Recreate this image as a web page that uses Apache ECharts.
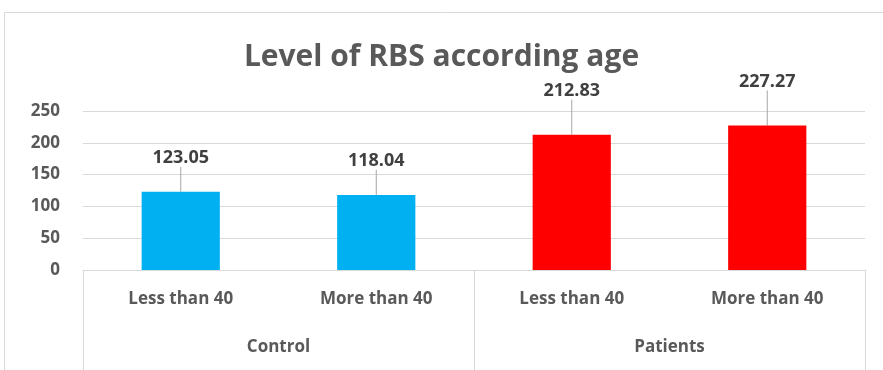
<!DOCTYPE html>
<html>
<head>
<meta charset="utf-8">
<script src="https://cdn.jsdelivr.net/npm/echarts@6/dist/echarts.min.js"></script>
<style>
  html, body { margin: 0; padding: 0; background: #fff; }
  #chart { width: 883px; height: 370px; }
</style>
</head>
<body>
<div id="chart"></div>
<script>
var ageGroups = ["Less than 40", "More than 40", "Less than 40", "More than 40"];
var studyGroups = ["Control", "Patients"];
var rbsValues = [123.05, 118.04, 212.83, 227.27];
var barColors = ["#00B0F0", "#00B0F0", "#FF0000", "#FF0000"];
var yTicks = [0, 50, 100, 150, 200, 250];

var font = "'Open Sans', 'Noto Sans', sans-serif";
var chart = echarts.init(document.getElementById("chart"));

var option = {
    backgroundColor: "#ffffff",
    animation: false,
    title: {
        text: "Level of RBS according age",
        left: "center",
        top: 37,
        textStyle: {
            fontFamily: font,
            fontSize: 30,
            fontWeight: "bold",
            color: "#595959"
        }
    },
    graphic: [
        {
            type: "rect",
            shape: { x: 4.5, y: 12.5, width: 900, height: 400 },
            style: { fill: "none", stroke: "#d9d9d9", lineWidth: 1 },
            silent: true
        }
    ],
    grid: {
        left: 83,
        right: 18,
        top: 111,
        bottom: 100
    },
    xAxis: [
        {
            type: "category",
            data: ageGroups,
            position: "bottom",
            axisLine: { lineStyle: { color: "#d9d9d9" } },
            axisTick: { show: false },
            axisLabel: {
                margin: 21,
                fontFamily: font,
                fontSize: 17,
                fontWeight: "bold",
                color: "#595959"
            }
        },
        {
            type: "category",
            data: studyGroups,
            position: "bottom",
            axisLine: { show: false },
            axisTick: {
                show: true,
                length: 100,
                lineStyle: { color: "#d9d9d9" }
            },
            axisLabel: {
                margin: 69,
                fontFamily: font,
                fontSize: 17,
                fontWeight: "bold",
                color: "#595959"
            }
        }
    ],
    yAxis: [
        {
            type: "value",
            min: yTicks[0],
            max: yTicks[yTicks.length - 1],
            interval: 50,
            axisLine: { show: false },
            axisTick: { show: false },
            splitLine: { lineStyle: { color: "#d9d9d9" } },
            axisLabel: {
                margin: 23,
                fontFamily: font,
                fontSize: 17,
                fontWeight: "bold",
                color: "#595959"
            }
        }
    ],
    series: [
        {
            name: "RBS",
            type: "bar",
            xAxisIndex: 0,
            barWidth: "40%",
            data: rbsValues.map(function(v, i) {
                return { value: v, itemStyle: { color: barColors[i] } };
            }),
            label: {
                show: true,
                position: "top",
                distance: 4,
                fontFamily: font,
                fontSize: 18,
                fontWeight: "bold",
                color: "#404040"
            },
            labelLayout: function(params) {
                return { dy: params.dataIndex >= 2 ? -31 : -21 };
            },
            labelLine: {
                show: true,
                lineStyle: { color: "#a6a6a6", width: 1 }
            }
        }
    ]
};
chart.setOption(option);
</script>
</body>
</html>
